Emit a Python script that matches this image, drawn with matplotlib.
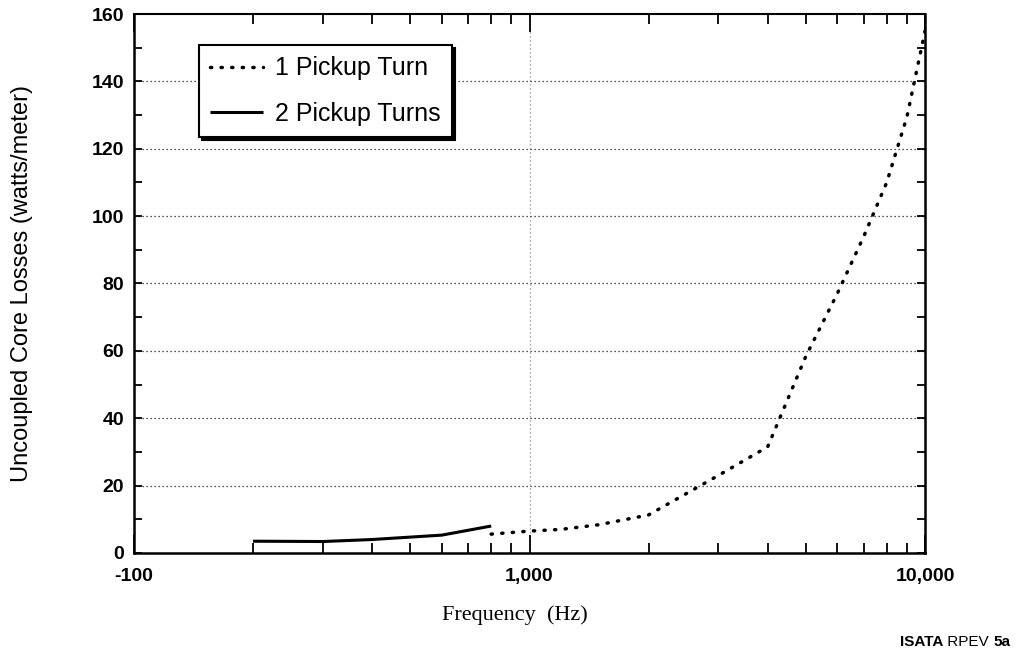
import numpy as np
import matplotlib
matplotlib.use("Agg")
import matplotlib.pyplot as plt
from matplotlib.ticker import FixedLocator, FixedFormatter, LogLocator, NullFormatter, MultipleLocator

plt.rcParams['font.family'] = ['Liberation Sans', 'DejaVu Sans']

# core losses vs frequency for the two pickup configurations
freq_one_turn = [800, 1000, 1200, 1500, 2000, 3000, 4000, 5000, 6000, 7000, 8000, 9000, 10000]
loss_one_turn = [5.6, 6.5, 7.0, 8.4, 11.3, 23.0, 31.5, 58.5, 77.0, 94.0, 110.0, 129.5, 155.0]

freq_two_turns = [200, 300, 400, 600, 800]
loss_two_turns = [3.5, 3.4, 4.0, 5.3, 8.0]

x_ticks = [100, 1000, 10000]
x_tick_labels = ['-100', '1,000', '10,000']
y_ticks = [0, 20, 40, 60, 80, 100, 120, 140, 160]

fig = plt.figure(figsize=(10.18, 6.58), dpi=100)
ax = fig.add_axes([0.1316, 0.1596, 0.7771, 0.8191])

ax.plot(freq_one_turn, loss_one_turn, color='black', lw=2.5,
        linestyle=(0, (0.35, 2.7)), dash_capstyle='round', label='1 Pickup Turn')
ax.plot(freq_two_turns, loss_two_turns, color='black', lw=2.2,
        solid_capstyle='butt', label='2 Pickup Turns')

ax.set_xscale('log')
ax.set_xlim(100, 10000)
ax.set_ylim(0, 160)

ax.xaxis.set_major_locator(FixedLocator(x_ticks))
ax.xaxis.set_major_formatter(FixedFormatter(x_tick_labels))
ax.xaxis.set_minor_locator(LogLocator(base=10, subs=np.arange(2, 10)))
ax.xaxis.set_minor_formatter(NullFormatter())
ax.yaxis.set_major_locator(FixedLocator(y_ticks))
ax.yaxis.set_minor_locator(MultipleLocator(10))

ax.tick_params(which='both', direction='in', top=True, right=True, width=1.3, colors='black')
ax.tick_params(axis='x', which='major', length=13, pad=11)
ax.tick_params(axis='x', which='minor', length=7)
ax.tick_params(axis='y', which='major', length=6, pad=7)
ax.tick_params(axis='y', which='minor', length=6)
for lab in ax.get_xticklabels() + ax.get_yticklabels():
    lab.set_fontweight('bold')
    lab.set_fontsize(14)

for side in ['left', 'bottom', 'right']:
    ax.spines[side].set_linewidth(1.8)
ax.spines['top'].set_linewidth(1.5)

# dotted grid: horizontal at every major y tick, vertical at 1,000 only
for y in y_ticks[1:-1]:
    ax.axhline(y, color='#1a1a1a', lw=0.9, linestyle=(0, (1, 2.2)), zorder=0)
ax.axvline(1000, color='#444444', lw=0.9, linestyle=(0, (1, 2.2)), alpha=0.6, zorder=0)

ax.set_ylabel('Uncoupled Core Losses (watts/meter)', fontsize=17)
ax.yaxis.set_label_coords(-0.128, 0.5)
ax.set_xlabel('Frequency  (Hz)', fontsize=16, family='Liberation Serif')
ax.xaxis.set_label_coords(0.482, -0.097)

leg = ax.legend(loc='upper left', bbox_to_anchor=(0.082, 0.9425), borderaxespad=0,
                fontsize=18, handlelength=2.1, handletextpad=0.5, labelspacing=0.85,
                borderpad=0.45, fancybox=False, framealpha=1,
                shadow={'color': 'black', 'alpha': 1})
leg.get_frame().set_edgecolor('black')
leg.get_frame().set_linewidth(1.5)

# footer tag in mixed weights
t1 = fig.text(0.884, 0.018, 'ISATA', fontsize=11, fontweight='bold', va='baseline')
a2 = ax.annotate(' RPEV ', xy=(1, 0), xycoords=t1, fontsize=11, va='bottom', ha='left',
                 annotation_clip=False)
ax.annotate('5a', xy=(1, 0), xycoords=a2, fontsize=11, fontweight='bold',
            va='bottom', ha='left', annotation_clip=False)

fig.savefig('out.png', dpi=100)
